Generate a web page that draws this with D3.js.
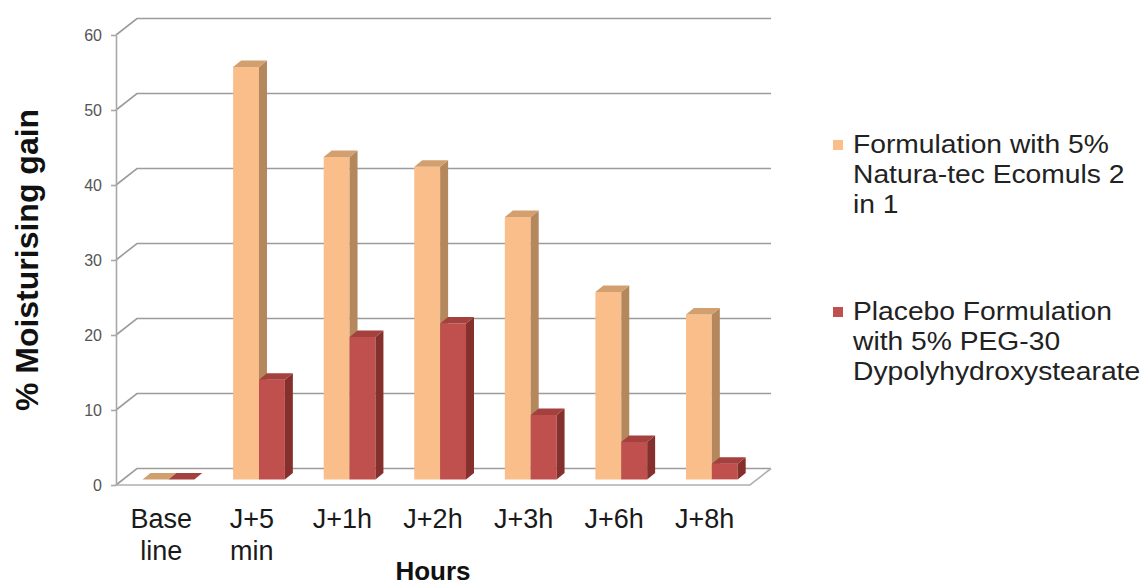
<!DOCTYPE html>
<html><head><meta charset="utf-8">
<script src="https://cdn.jsdelivr.net/npm/d3@7"></script>
<style>body{margin:0;background:#fff}svg{display:block}</style>
</head><body><svg id="c" width="1147" height="587"></svg>
<script>
const categories = ["Base line","J+5 min","J+1h","J+2h","J+3h","J+6h","J+8h"];
const formulationValues = [0,55,43,41.7,35,25,22];
const placeboValues = [0,13.3,19,20.8,8.6,5,2.1];
const yTicks = [0,10,20,30,40,50,60];
const seriesLabels = [
  ["Formulation with 5%","Natura-tec Ecomuls 2","in 1"],
  ["Placebo Formulation","with 5% PEG-30","Dypolyhydroxystearate"]
];
const series = [
  {values: formulationValues, front:"#F9BE89", side:"#B4875C", top:"#D2A06F"},
  {values: placeboValues, front:"#C0504D", side:"#86302D", top:"#A4403D"}
];

const FONT = "'Liberation Sans', Arial, sans-serif";
const svg = d3.select("#c");
const x = d3.scaleBand().domain(categories).range([116,750]);
const sub = d3.scaleBand().domain([0,1]).range([0,x.bandwidth()]).paddingOuter(0.75);
const y = d3.scaleLinear().domain([0,60]).range([485,35]);
const D = {x:21, y:-16.5};
const fa = 0.34, fb = 0.72;
const dd = {x:(fb-fa)*D.x, y:(fb-fa)*D.y};

// gridlines (side wall + back wall)
svg.append("g").selectAll("path").data(yTicks).join("path")
  .attr("d", t => `M${x.range()[0]},${y(t)} L${x.range()[0]+D.x},${y(t)+D.y} L${x.range()[1]+D.x},${y(t)+D.y}`)
  .attr("fill","none").attr("stroke","#9c9c9c").attr("stroke-width",1.6);

// floor front edge
svg.append("path")
  .attr("d", `M${x.range()[0]},${y(0)} L${x.range()[1]},${y(0)} L${x.range()[1]+D.x},${y(0)+D.y}`)
  .attr("fill","none").attr("stroke","#b0b0b0").attr("stroke-width",1.6);

// y axis
const ax = svg.append("g").attr("transform",`translate(${x.range()[0]},0)`)
  .call(d3.axisLeft(y).tickValues(yTicks).tickSize(5).tickSizeOuter(0).tickPadding(9));
ax.select(".domain").attr("stroke","#a8a8a8").attr("stroke-width",1.6);
ax.selectAll(".tick line").attr("stroke","#a8a8a8").attr("stroke-width",1.6);
ax.selectAll(".tick text").attr("fill","#555").style("font-family",FONT).style("font-size","16px");

// bars
const bars = svg.append("g");
categories.forEach((c,i) => {
  series.forEach((s,k) => {
    const v = s.values[i];
    const x0 = x(c) + sub(k) + fa*D.x, x1 = x0 + sub.bandwidth();
    const yb = y(0) + fa*D.y, yt = y(v) + fa*D.y;
    const g = bars.append("g");
    if (v > 0) {
      g.append("path").attr("d",`M${x0},${yt} L${x1},${yt} L${x1},${yb} L${x0},${yb} Z`).attr("fill",s.front);
      g.append("path").attr("d",`M${x1},${yt} L${x1+dd.x},${yt+dd.y} L${x1+dd.x},${yb+dd.y} L${x1},${yb} Z`).attr("fill",s.side);
    }
    g.append("path").attr("d",`M${x0},${yt} L${x0+dd.x},${yt+dd.y} L${x1+dd.x},${yt+dd.y} L${x1},${yt} Z`).attr("fill",s.top);
  });
});

// category labels
const cl = svg.append("g").style("font-family",FONT).style("font-size","27px").attr("fill","#1a1a1a");
categories.forEach(c => {
  const t = cl.append("text").attr("text-anchor","middle");
  c.split(" ").forEach((w,j) => t.append("tspan").attr("x", x(c)+x.bandwidth()/2).attr("y", 528 + j*32).text(w));
});

// axis titles
svg.append("text").attr("x",433).attr("y",580).attr("text-anchor","middle")
  .style("font-family",FONT).style("font-size","26px").style("font-weight","bold").attr("fill","#111").text("Hours");
svg.append("text").attr("transform","translate(38,260) rotate(-90)").attr("text-anchor","middle")
  .style("font-family",FONT).style("font-size","32px").style("font-weight","bold").attr("fill","#111").text("% Moisturising gain");

// legend
const legY = [140, 307];
series.forEach((s,k) => {
  svg.append("rect").attr("x",833).attr("y",legY[k]).attr("width",10).attr("height",10).attr("fill", s.front);
  seriesLabels[k].forEach((line,j) => {
    svg.append("text").attr("transform",`translate(853,${legY[k]+13+j*30}) scale(1.13,1)`)
      .style("font-family",FONT).style("font-size","25px").attr("fill","#222").text(line);
  });
});
</script></body></html>
